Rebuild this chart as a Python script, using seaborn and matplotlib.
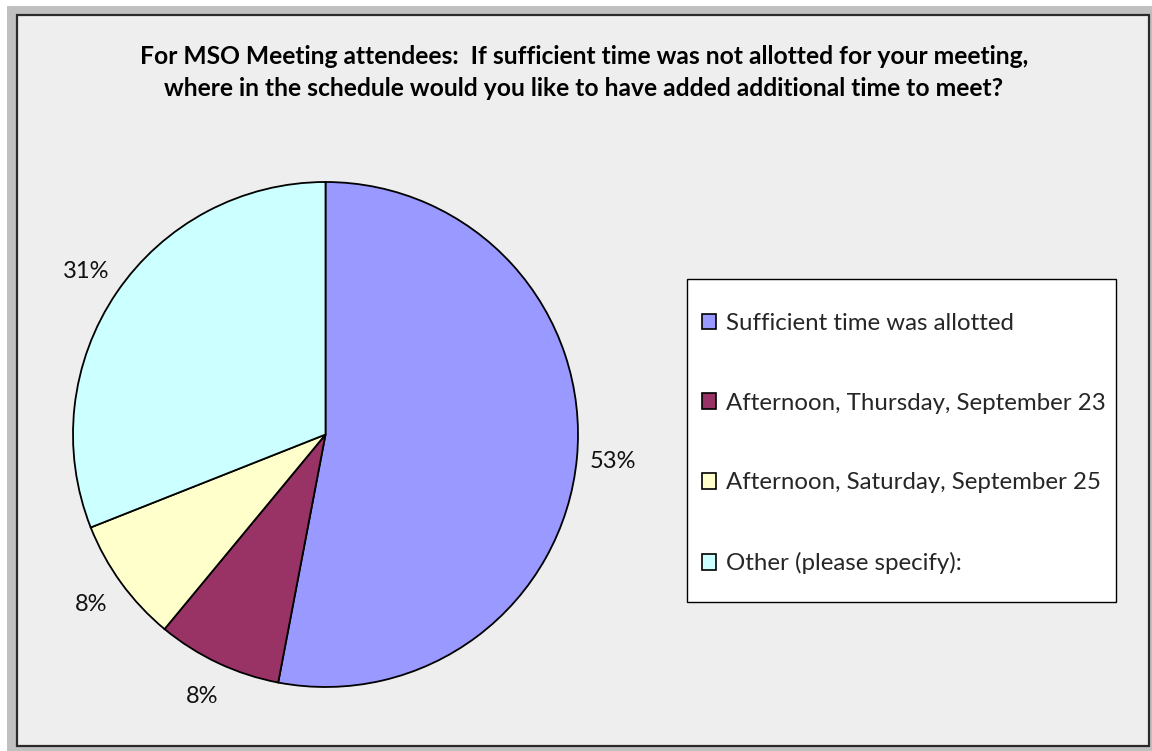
import matplotlib
matplotlib.use("Agg")
import matplotlib.pyplot as plt
from matplotlib.patches import Rectangle
import seaborn as sns

# ---- data ----
categories = ["Sufficient time was allotted",
              "Afternoon, Thursday, September 23",
              "Afternoon, Saturday, September 25",
              "Other (please specify):"]
values = [53, 8, 8, 31]
colors = ["#9999FF", "#993366", "#FFFFCC", "#CCFFFF"]
title_lines = ["For MSO Meeting attendees:  If sufficient time was not allotted for your meeting,",
               "where in the schedule would you like to have added additional time to meet?"]

sns.set_style("white")
plt.rcParams['font.family'] = ['Lato', 'DejaVu Sans']

W, H = 1152, 751
fig = plt.figure(figsize=(W / 100, H / 100), dpi=100, facecolor='white')

def fx(x):
    return x / W

def fy(y):
    return 1 - y / H

# outer gray frame and inner panel
fig.patches.append(Rectangle((fx(7), 0), 1 - fx(7), fy(6), transform=fig.transFigure,
                             facecolor='#C0C0C0', edgecolor='none', zorder=-3))
fig.patches.append(Rectangle((fx(17), fy(746)), fx(1149) - fx(17), fy(15) - fy(746),
                             transform=fig.transFigure, facecolor='#EEEEEE',
                             edgecolor='#2a2a2a', linewidth=1.6, zorder=-2))

# title
for i, line in enumerate(title_lines):
    fig.text(fx(584), fy(56 + 33 * i), line, ha='center', va='center',
             fontsize=17.7, fontweight='bold', color='black')

# pie
cx, cy, r = 325.5, 434.5, 252.5
half = 310
ax = fig.add_axes([fx(cx - half), fy(cy + half), 2 * half / W, 2 * half / H])
pal = sns.color_palette(colors)
res = ax.pie(values, colors=pal, startangle=90, counterclock=False,
             radius=1, autopct=lambda p: f"{p:.0f}%", pctdistance=1.145,
             wedgeprops=dict(edgecolor='black', linewidth=1.3),
             textprops=dict(fontsize=17, color='#111111'))
wedges = res[0]
ax.set_xlim(-half / r, half / r)
ax.set_ylim(-half / r, half / r)
ax.set_aspect('equal')
ax.axis('off')

# legend box
fig.patches.append(Rectangle((fx(687), fy(602)), fx(1116) - fx(687), fy(279) - fy(602),
                             transform=fig.transFigure, facecolor='white',
                             edgecolor='black', linewidth=1.0, zorder=-1))
leg = fig.legend(wedges, categories, loc='center left',
                 bbox_to_anchor=(fx(702), fy(443.5)), frameon=False,
                 fontsize=17.3, labelspacing=2.45, handlelength=0.6, handleheight=0.6,
                 handletextpad=0.4, borderpad=0, borderaxespad=0)
for h in leg.legend_handles:
    h.set_edgecolor('black')
    h.set_linewidth(1.2)

fig.savefig("out.png", dpi=100, facecolor='white')
